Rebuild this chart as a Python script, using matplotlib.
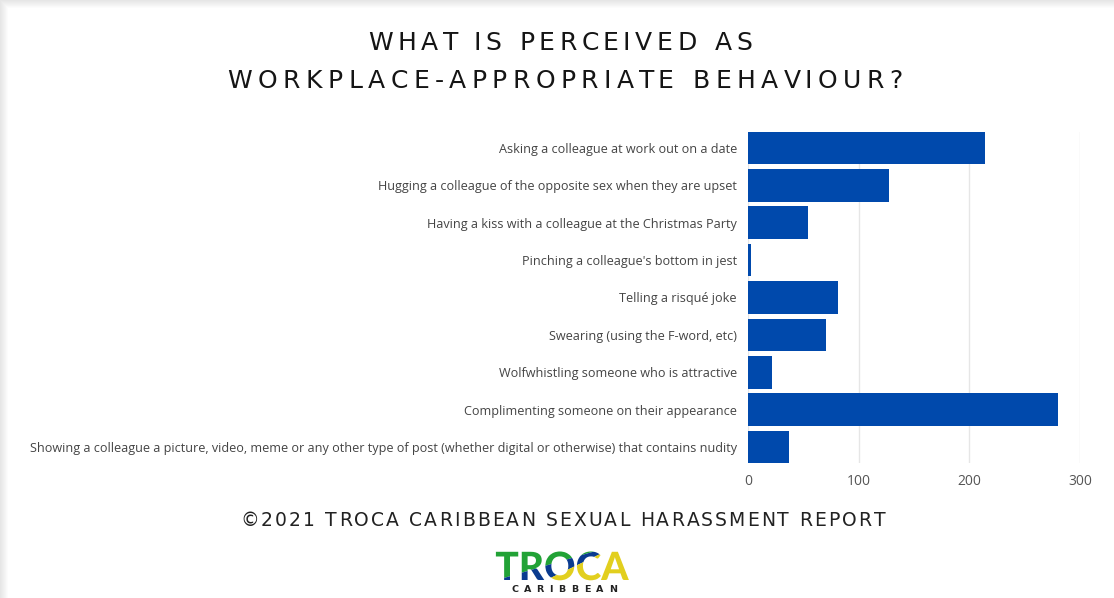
import matplotlib
matplotlib.use("Agg")
import matplotlib.pyplot as plt
import matplotlib.patheffects as pe
from matplotlib.patches import Rectangle, Polygon

# survey answers, top to bottom
behaviours = [
    "Asking a colleague at work out on a date",
    "Hugging a colleague of the opposite sex when they are upset",
    "Having a kiss with a colleague at the Christmas Party",
    "Pinching a colleague's bottom in jest",
    "Telling a risqué joke",
    "Swearing (using the F-word, etc)",
    "Wolfwhistling someone who is attractive",
    "Complimenting someone on their appearance",
    "Showing a colleague a picture, video, meme or any other type of post (whether digital or otherwise) that contains nudity",
]
counts = [214, 127, 54, 3, 81, 70, 22, 280, 37]
x_ticks = [0, 100, 200, 300]

title_lines = ["WHAT IS PERCEIVED AS", "WORKPLACE-APPROPRIATE BEHAVIOUR?"]
footer = "©2021 TROCA CARIBBEAN SEXUAL HARASSMENT REPORT"

bar_color = "#0049ac"
W, H = 1114, 598

fig = plt.figure(figsize=(W / 100, H / 100), dpi=100)
fig.patch.set_facecolor("white")
renderer = fig.canvas.get_renderer()


def text_width(s, **kw):
    # width in pixels, measured with a guard glyph so trailing spaces count
    t = fig.text(0, 0, s + "|", **kw)
    g = fig.text(0, 0, "|", **kw)
    w = t.get_window_extent(renderer).width - g.get_window_extent(renderer).width
    t.remove()
    g.remove()
    return w


def tracked_text(xc, y, s, width, **kw):
    # letter-spaced line, centred on xc (pixels) with baseline y (pixels from top)
    natural = text_width(s, **kw)
    track = (width - natural) / (len(s) - 1)
    x0 = xc - width / 2
    for i, ch in enumerate(s):
        if ch == " ":
            continue
        x = x0 + text_width(s[:i], **kw) + i * track
        fig.text(x / W, 1 - y / H, ch, ha="left", va="baseline", **kw)


# soft card shadow along the top and left edges
for i in range(8):
    shade = 0.90 + i * 0.0125
    fig.patches.append(Rectangle((i / W, 0), 1 / W, 1 - (i + 1) / H,
                                 transform=fig.transFigure, color=(shade, shade, shade), lw=0))
    fig.patches.append(Rectangle((i / W, 1 - (i + 1) / H), 1, 1 / H,
                                 transform=fig.transFigure, color=(shade, shade, shade), lw=0))

ax = fig.add_axes([0.6715, 0.2253, 0.298, 0.5545])
pos = list(range(len(behaviours)))
ax.barh(pos, counts, height=0.87, color=bar_color, zorder=3)
ax.set_ylim(len(behaviours) - 1 + 0.435, -0.435)
ax.set_xlim(0, 300)
ax.set_xticks(x_ticks)
ax.set_xticklabels([str(t) for t in x_ticks], fontsize=10, color="#555555", family="Open Sans")
ax.set_yticks(pos)
ax.set_yticklabels(behaviours, fontsize=9.05, color="#444444", family="Open Sans")
ax.tick_params(axis="both", length=0)
ax.tick_params(axis="y", pad=8)
ax.tick_params(axis="x", pad=8)
ax.grid(axis="x", color="#e6e6e6", lw=1, zorder=0)
for s in ax.spines.values():
    s.set_visible(False)

title_kw = dict(fontsize=18, family="DejaVu Sans", color="#151515")
tracked_text(560, 50, title_lines[0], 384, **title_kw)
tracked_text(565, 88, title_lines[1], 675, **title_kw)

tracked_text(562, 526, footer, 644, fontsize=13.5, family="DejaVu Sans", color="#222222")

# logo wordmark: three tones, each clipped to its own diagonal band
px = lambda x, y: (x / W, 1 - y / H)
bands = [
    ("#22a236", [px(480, 540), px(650, 540), px(650, 535), px(480, 585)]),
    ("#0a3b8f", [px(480, 585), px(650, 535), px(650, 530), px(480, 612)]),
    ("#e2cf1e", [px(480, 612), px(650, 530), px(650, 600), px(480, 600)]),
]
for color, corners in bands:
    clip = Polygon(corners, closed=True, transform=fig.transFigure)
    t = fig.text(562 / W, 1 - 580 / H, "TROCA", ha="center", va="baseline",
                 fontsize=28, fontweight="black", family="Lato", color=color,
                 path_effects=[pe.Normal()])
    t.set_clip_path(clip)
tracked_text(564, 592, "CARIBBEAN", 106, fontsize=6.8, fontweight="bold",
             family="DejaVu Sans", color="#222222")

fig.savefig("out.png", dpi=100)
